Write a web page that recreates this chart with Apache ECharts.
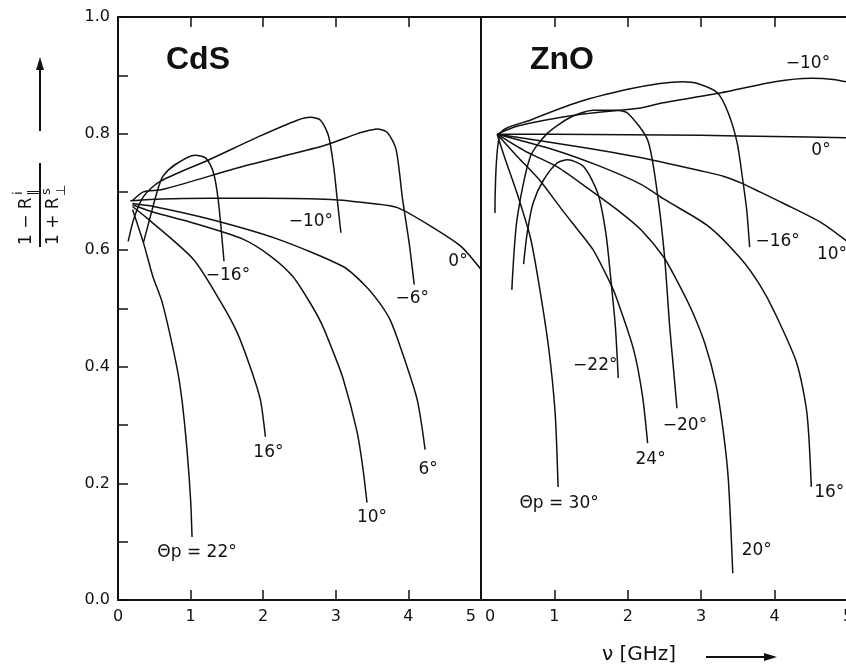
<!DOCTYPE html>
<html>
<head>
<meta charset="utf-8">
<script src="https://cdn.jsdelivr.net/npm/echarts@6/dist/echarts.min.js"></script>
<style>
  html, body { margin: 0; padding: 0; background: #fff; }
  #chart { width: 846px; height: 669px; }
</style>
</head>
<body>
<div id="chart"></div>
<script>
// Tick labels
const xTickLabels = ['0', '1', '2', '3', '4', '5'];
const yTickLabels = ['0.0', '0.2', '0.4', '0.6', '0.8', '1.0'];

// CdS panel: [frequency GHz, (1 - R∥i)/(1 + R⊥s)]
const cdsM16 = [[0.35,0.613],[0.45,0.66],[0.55,0.705],[0.62,0.727],[0.79,0.747],[1.06,0.763],[1.21,0.758],[1.31,0.735],[1.38,0.687],[1.46,0.581]];
const cdsM10 = [[0.14,0.615],[0.22,0.655],[0.35,0.692],[0.58,0.718],[1.27,0.756],[1.96,0.796],[2.47,0.823],[2.65,0.828],[2.79,0.823],[2.9,0.796],[2.97,0.744],[3.02,0.687],[3.07,0.63]];
const cdsM6  = [[0.2,0.685],[0.35,0.70],[0.61,0.704],[1.73,0.744],[2.83,0.779],[3.3,0.80],[3.48,0.806],[3.57,0.808],[3.71,0.802],[3.83,0.773],[3.92,0.687],[4.01,0.613],[4.08,0.541]];
const cds0   = [[0.17,0.685],[0.6,0.688],[1.27,0.689],[2.0,0.689],[2.93,0.687],[3.5,0.68],[3.85,0.673],[4.31,0.641],[4.72,0.607],[5.0,0.567]];
const cds6   = [[0.2,0.68],[0.49,0.675],[1.27,0.653],[2.2,0.619],[3.1,0.572],[3.4,0.54],[3.6,0.51],[3.75,0.48],[3.9,0.43],[4.12,0.344],[4.23,0.258]];
const cds10  = [[0.2,0.678],[0.49,0.665],[1.0,0.648],[1.72,0.619],[2.1,0.59],[2.4,0.556],[2.62,0.515],[2.8,0.475],[2.95,0.43],[3.1,0.38],[3.29,0.29],[3.37,0.229],[3.43,0.167]];
const cds16  = [[0.2,0.675],[0.4,0.655],[1.04,0.584],[1.42,0.51],[1.64,0.459],[1.82,0.4],[1.96,0.344],[2.03,0.28]];
const cds22  = [[0.2,0.67],[0.35,0.613],[0.48,0.555],[0.61,0.51],[0.81,0.4],[0.88,0.344],[0.95,0.258],[1.0,0.172],[1.02,0.108]];

// ZnO panel
const znoM22 = [[0.58,0.576],[0.63,0.63],[0.71,0.681],[0.85,0.72],[1.04,0.75],[1.18,0.755],[1.4,0.743],[1.59,0.698],[1.7,0.63],[1.77,0.549],[1.83,0.47],[1.87,0.381]];
const znoM20 = [[0.42,0.532],[0.49,0.652],[0.67,0.76],[0.9,0.80],[1.22,0.828],[1.53,0.84],[1.84,0.84],[2.0,0.835],[2.27,0.789],[2.4,0.70],[2.5,0.59],[2.57,0.47],[2.62,0.40],[2.67,0.329]];
const znoM16 = [[0.19,0.664],[0.26,0.80],[0.67,0.823],[1.35,0.855],[2.0,0.876],[2.44,0.886],[2.75,0.889],[2.95,0.886],[3.22,0.87],[3.37,0.835],[3.49,0.784],[3.56,0.726],[3.62,0.669],[3.66,0.605]];
const znoM10 = [[0.22,0.799],[0.5,0.813],[1.36,0.833],[2.18,0.844],[2.45,0.852],[3.27,0.87],[4.0,0.889],[4.5,0.895],[4.8,0.893],[5.0,0.888]];
const zno0   = [[0.22,0.799],[1.0,0.799],[2.0,0.798],[3.0,0.797],[4.0,0.795],[5.0,0.793]];
const zno10  = [[0.22,0.799],[0.85,0.787],[1.5,0.774],[2.17,0.759],[3.0,0.736],[3.3,0.727],[3.55,0.715],[3.8,0.7],[4.11,0.681],[4.64,0.647],[5.0,0.614]];
const zno16  = [[0.22,0.799],[1.0,0.772],[1.6,0.745],[2.18,0.713],[2.5,0.687],[3.1,0.641],[3.55,0.584],[3.8,0.54],[3.99,0.496],[4.3,0.407],[4.44,0.321],[4.5,0.194]];
const zno20  = [[0.22,0.799],[0.6,0.77],[1.04,0.743],[1.49,0.703],[1.9,0.665],[2.18,0.635],[2.49,0.588],[2.66,0.55],[2.86,0.50],[3.05,0.44],[3.2,0.37],[3.3,0.29],[3.37,0.206],[3.43,0.046]];
const zno24  = [[0.22,0.799],[0.5,0.76],[0.8,0.72],[1.1,0.67],[1.35,0.63],[1.53,0.6],[1.74,0.549],[1.84,0.52],[2.08,0.429],[2.2,0.35],[2.27,0.269]];
const zno30  = [[0.22,0.799],[0.32,0.76],[0.49,0.698],[0.67,0.623],[0.78,0.549],[0.92,0.434],[1.01,0.321],[1.05,0.194]];

const INK = '#111';
const FONT = 'DejaVu Sans';

function curve(name, data, panel, text, offset) {
  return {
    name: name,
    type: 'line',
    xAxisIndex: panel * 2,
    yAxisIndex: panel,
    data: data,
    smooth: 0.25,
    showSymbol: false,
    silent: true,
    lineStyle: { color: INK, width: 1.5 },
    endLabel: {
      show: true,
      formatter: text,
      color: INK,
      fontFamily: FONT,
      fontSize: 17,
      align: 'center',
      verticalAlign: 'middle',
      distance: 0,
      offset: offset
    }
  };
}

function xAxisPair(grid, edgeRule) {
  const bottom = {
    gridIndex: grid, type: 'value', position: 'bottom', min: 0, max: 5, interval: 1,
    axisLine: { show: true, onZero: false, lineStyle: { color: INK, width: 2 } },
    axisTick: { show: true, inside: true, length: 10, lineStyle: { color: INK, width: 1.5 } },
    splitLine: { show: false },
    axisLabel: Object.assign({
      color: INK, fontFamily: FONT, fontSize: 16, margin: 9,
      formatter: function (v) {
        const s = xTickLabels[Math.round(v)];
        if (grid === 0 && v === 5) return '{r|' + s + '}';
        if (grid === 1 && v === 0) return '{l|' + s + '}';
        return s;
      },
      rich: {
        r: { color: INK, fontFamily: FONT, fontSize: 16, padding: [0, 5, 0, 0] },
        l: { color: INK, fontFamily: FONT, fontSize: 16, padding: [0, 0, 0, 4] }
      }
    }, edgeRule)
  };
  const top = {
    gridIndex: grid, type: 'value', position: 'top', min: 0, max: 5, interval: 1,
    axisLine: { show: true, onZero: false, lineStyle: { color: INK, width: 2 } },
    axisTick: { show: true, inside: true, length: 10, lineStyle: { color: INK, width: 1.5 } },
    axisLabel: { show: false },
    splitLine: { show: false }
  };
  return [bottom, top];
}

const option = {
  backgroundColor: '#fff',
  animation: false,
  grid: [
    { left: 118, top: 17, width: 363, height: 583, outerBoundsMode: 'none', containLabel: false },
    { left: 481, top: 17, width: 367, height: 583, outerBoundsMode: 'none', containLabel: false }
  ],
  xAxis: [].concat(
    xAxisPair(0, { alignMaxLabel: 'right' }),
    xAxisPair(1, { alignMinLabel: 'left' })
  ),
  yAxis: [
    {
      gridIndex: 0, type: 'value', min: 0, max: 1, interval: 0.1,
      axisLine: { show: true, lineStyle: { color: INK, width: 2 } },
      axisTick: { show: true, inside: true, length: 10, lineStyle: { color: INK, width: 1.5 } },
      splitLine: { show: false },
      axisLabel: {
        color: INK, fontFamily: FONT, fontSize: 16, margin: 8,
        formatter: function (v) {
          const k = Math.round(v * 10);
          return k % 2 === 0 ? yTickLabels[k / 2] : '';
        }
      }
    },
    {
      gridIndex: 1, type: 'value', min: 0, max: 1, interval: 0.1,
      axisLine: { show: true, lineStyle: { color: INK, width: 2 } },
      axisTick: { show: false },
      axisLabel: { show: false },
      splitLine: { show: false }
    }
  ],
  series: [
    curve('CdS -16', cdsM16, 0, '−16°', [4, 14]),
    curve('CdS -10', cdsM10, 0, '−10°', [-30, -11]),
    curve('CdS -6',  cdsM6,  0, '−6°',  [-2, 14]),
    curve('CdS 0',   cds0,   0, '0°',   [-23, -8]),
    curve('CdS 6',   cds6,   0, '6°',   [3, 20]),
    curve('CdS 10',  cds10,  0, '10°',  [5, 15]),
    curve('CdS 16',  cds16,  0, '16°',  [3, 16]),
    curve('CdS 22',  cds22,  0, 'Θp = 22°', [5, 16]),
    curve('ZnO -22', znoM22, 1, '−22°', [-23, -12]),
    curve('ZnO -20', znoM20, 1, '−20°', [8, 17]),
    curve('ZnO -16', znoM16, 1, '−16°', [28, -6]),
    curve('ZnO -10', znoM10, 1, '−10°', [-40, -19]),
    curve('ZnO 0',   zno0,   1, '0°',   [-27, 13]),
    curve('ZnO 10',  zno10,  1, '10°',  [-16, 13]),
    curve('ZnO 16',  zno16,  1, '16°',  [18, 6]),
    curve('ZnO 20',  zno20,  1, '20°',  [24, -23]),
    curve('ZnO 24',  zno24,  1, '24°',  [3, 16]),
    curve('ZnO 30',  zno30,  1, 'Θp = 30°', [1, 17])
  ],
  graphic: [
    // panel names
    { type: 'text', x: 198, y: 60, style: { text: 'CdS', font: 'bold 32px "Liberation Sans"', fill: INK, align: 'center', verticalAlign: 'middle' } },
    { type: 'text', x: 562, y: 60, style: { text: 'ZnO', font: 'bold 32px "Liberation Sans"', fill: INK, align: 'center', verticalAlign: 'middle' } },
    // vertical axis title: fraction written bottom-to-top
    {
      type: 'group', x: 40, y: 205, rotation: Math.PI / 2,
      children: [
        { type: 'text', x: -40, y: -13, style: { text: '1 − R', font: '17px "DejaVu Sans"', fill: INK, align: 'left', verticalAlign: 'middle' } },
        { type: 'text', x: 10, y: -21, style: { text: 'i', font: '13px "DejaVu Sans"', fill: INK, align: 'left', verticalAlign: 'middle' } },
        { type: 'text', x: 9, y: -6, style: { text: '∥', font: '13px "DejaVu Sans"', fill: INK, align: 'left', verticalAlign: 'middle' } },
        { type: 'line', shape: { x1: -42, y1: 0, x2: 42, y2: 0 }, style: { stroke: INK, lineWidth: 2 } },
        { type: 'text', x: -40, y: 14, style: { text: '1 + R', font: '17px "DejaVu Sans"', fill: INK, align: 'left', verticalAlign: 'middle' } },
        { type: 'text', x: 10, y: 7, style: { text: 's', font: '13px "DejaVu Sans"', fill: INK, align: 'left', verticalAlign: 'middle' } },
        { type: 'text', x: 9, y: 22, style: { text: '⊥', font: '13px "DejaVu Sans"', fill: INK, align: 'left', verticalAlign: 'middle' } }
      ]
    },
    // upward arrow
    { type: 'line', shape: { x1: 40, y1: 131, x2: 40, y2: 66 }, style: { stroke: INK, lineWidth: 2 } },
    { type: 'polygon', shape: { points: [[40, 57], [36, 70], [44, 70]] }, style: { fill: INK } },
    // horizontal axis title
    { type: 'text', x: 639, y: 655, style: { text: 'ν [GHz]', font: '20px "DejaVu Sans"', fill: INK, align: 'center', verticalAlign: 'middle' } },
    { type: 'line', shape: { x1: 706, y1: 657, x2: 768, y2: 657 }, style: { stroke: INK, lineWidth: 2 } },
    { type: 'polygon', shape: { points: [[777, 657], [764, 653], [764, 661]] }, style: { fill: INK } }
  ]
};

const chart = echarts.init(document.getElementById('chart'), null, { renderer: 'canvas' });
chart.setOption(option);
</script>
</body>
</html>
